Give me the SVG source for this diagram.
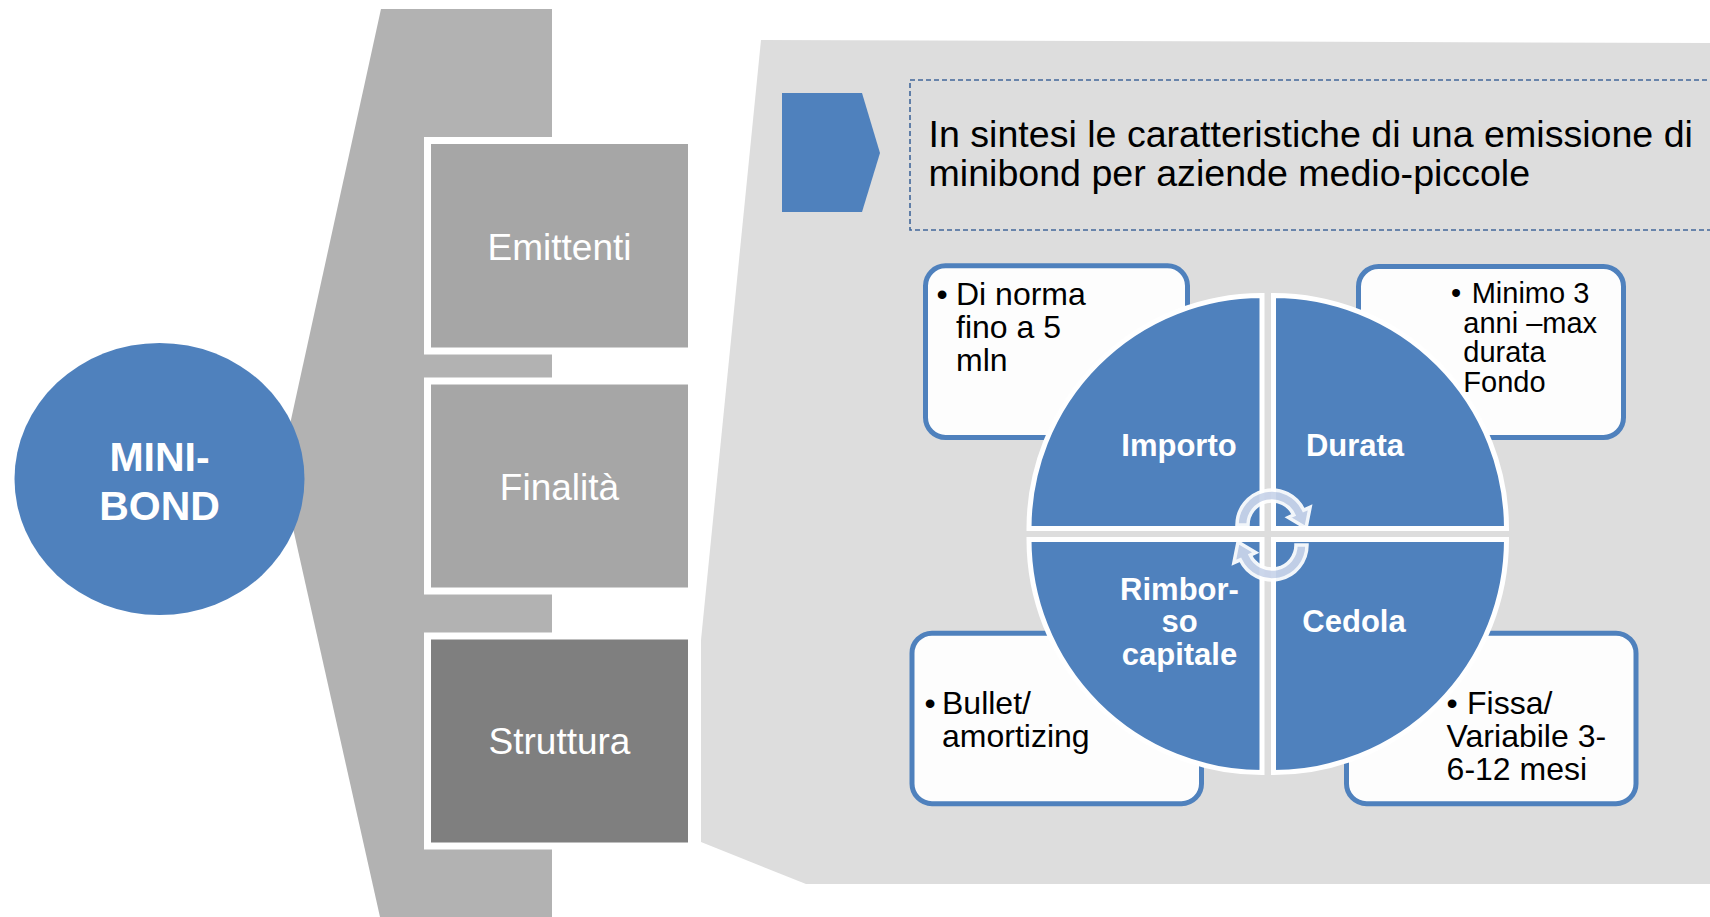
<svg xmlns="http://www.w3.org/2000/svg" width="1710" height="917" viewBox="0 0 1710 917">
<style>
.lbl{font-family:"Liberation Sans",Arial,sans-serif;font-size:37px;fill:#fff;text-anchor:middle}
.quad{fill:#4f81bd;stroke:#fff;stroke-width:5}
.ql{font-family:"Liberation Sans",Arial,sans-serif;font-size:31px;font-weight:bold;fill:#fff;text-anchor:middle}
.card{fill:#fdfdfd;stroke:#4f81bd;stroke-width:5}
.ct{font-family:"Liberation Sans",Arial,sans-serif;font-size:32px;fill:#000}
.ct2{font-family:"Liberation Sans",Arial,sans-serif;font-size:29px;fill:#000}
.arc{fill:#c9d4ea;stroke:#fff;stroke-width:3.5;opacity:0.93}
</style>
<rect width="1710" height="917" fill="#fff"/>
<g id="spine">
<polygon points="381,9 552,9 552,917 380,917 280,470" fill="#b2b2b2"/>
</g>
<g id="emittenti">
<rect x="427.5" y="140.5" width="264" height="210.5" fill="#a6a6a6" stroke="#fff" stroke-width="7"/>
<text class="lbl" x="559.5" y="260">Emittenti</text>
</g>
<g id="finalita">
<rect x="427.5" y="381" width="264" height="210" fill="#a6a6a6" stroke="#fff" stroke-width="7"/>
<text class="lbl" x="559.5" y="500">Finalità</text>
</g>
<g id="struttura">
<rect x="427.5" y="636" width="264" height="210" fill="#7f7f7f" stroke="#fff" stroke-width="7"/>
<text class="lbl" x="559.5" y="754">Struttura</text>
</g>
<g id="minibond">
<ellipse cx="159.5" cy="479" rx="145" ry="136" fill="#4f81bd"/>
<text x="159.5" y="471" font-family="Liberation Sans,Arial,sans-serif" font-size="41" font-weight="bold" fill="#fff" text-anchor="middle">MINI-</text>
<text x="159.5" y="520" font-family="Liberation Sans,Arial,sans-serif" font-size="41" font-weight="bold" fill="#fff" text-anchor="middle">BOND</text>
</g>
<g id="panel">
<polygon points="761,40 1710,43 1710,884 806,884 701,842 701,640" fill="#dddddd"/>
</g>
<g id="header">
<polygon points="782,93 862,93 880,153 862,212 782,212" fill="#4f81bd"/>
<rect x="910" y="80" width="850" height="150" fill="none" stroke="#41679a" stroke-width="1.6" stroke-dasharray="5,3"/>
<text x="928.5" y="147" font-family="Liberation Sans,Arial,sans-serif" font-size="37.6" fill="#000">In sintesi le caratteristiche di una emissione di</text>
<text x="928.5" y="186" font-family="Liberation Sans,Arial,sans-serif" font-size="37.6" fill="#000">minibond per aziende medio-piccole</text>
</g>
<g id="card-importo">
<rect class="card" x="925.5" y="265.8" width="262" height="171.7" rx="20"/>
<text class="ct" y="305"><tspan x="936.5">•</tspan><tspan x="956">Di norma</tspan></text>
<text class="ct" x="956" y="338">fino a 5</text>
<text class="ct" x="956" y="370.5">mln</text>
</g>
<g id="card-durata">
<rect class="card" x="1358.5" y="266.5" width="265" height="171" rx="20"/>
<text class="ct2" y="302.7"><tspan x="1451">•</tspan><tspan x="1471.7">Minimo 3</tspan></text>
<text class="ct2" x="1463.3" y="332.7">anni –max</text>
<text class="ct2" x="1463.3" y="361.7">durata</text>
<text class="ct2" x="1463.3" y="391.7">Fondo</text>
</g>
<g id="card-rimborso">
<rect class="card" x="912" y="633.2" width="289.5" height="170.5" rx="20"/>
<text class="ct" y="714"><tspan x="924.5">•</tspan><tspan x="942">Bullet/</tspan></text>
<text class="ct" x="942" y="746.5">amortizing</text>
</g>
<g id="card-cedola">
<rect class="card" x="1346.5" y="633.2" width="289.5" height="170.5" rx="20"/>
<text class="ct" y="714"><tspan x="1446.5">•</tspan><tspan x="1467">Fissa/</tspan></text>
<text class="ct" x="1446.6" y="746.5">Variabile 3-</text>
<text class="ct" x="1446.6" y="779.7">6-12 mesi</text>
</g>
<g id="q-importo">
<path class="quad" d="M1262 528.5 L1029 528.5 A233 233 0 0 1 1262 295.5 Z"/>
<text class="ql" x="1179" y="455.7">Importo</text>
</g>
<g id="q-durata">
<path class="quad" d="M1273.5 528.5 L1273.5 295.5 A233 233 0 0 1 1506.5 528.5 Z"/>
<text class="ql" x="1355" y="455.7">Durata</text>
</g>
<g id="q-cedola">
<path class="quad" d="M1273.5 539.5 L1506.5 539.5 A233 233 0 0 1 1273.5 772.5 Z"/>
<text class="ql" x="1354" y="632">Cedola</text>
</g>
<g id="q-rimborso">
<path class="quad" d="M1262 539.5 L1262 772.5 A233 233 0 0 1 1029 539.5 Z"/>
<text class="ql" x="1179.5" y="600">Rimbor-</text>
<text class="ql" x="1179.5" y="632">so</text>
<text class="ql" x="1179.5" y="665">capitale</text>
</g>
<g id="connectors">
<path class="arc" d="M1237 525 A35 35 0 0 1 1303.7 510.2 L1310.1 507.3 L1306 528 L1288.3 517.4 L1293.8 514.9 A24 24 0 0 0 1248 525 Z"/>
<path class="arc" transform="rotate(180 1272 535)" d="M1237 525 A35 35 0 0 1 1303.7 510.2 L1310.1 507.3 L1306 528 L1288.3 517.4 L1293.8 514.9 A24 24 0 0 0 1248 525 Z"/>
</g>
</svg>
